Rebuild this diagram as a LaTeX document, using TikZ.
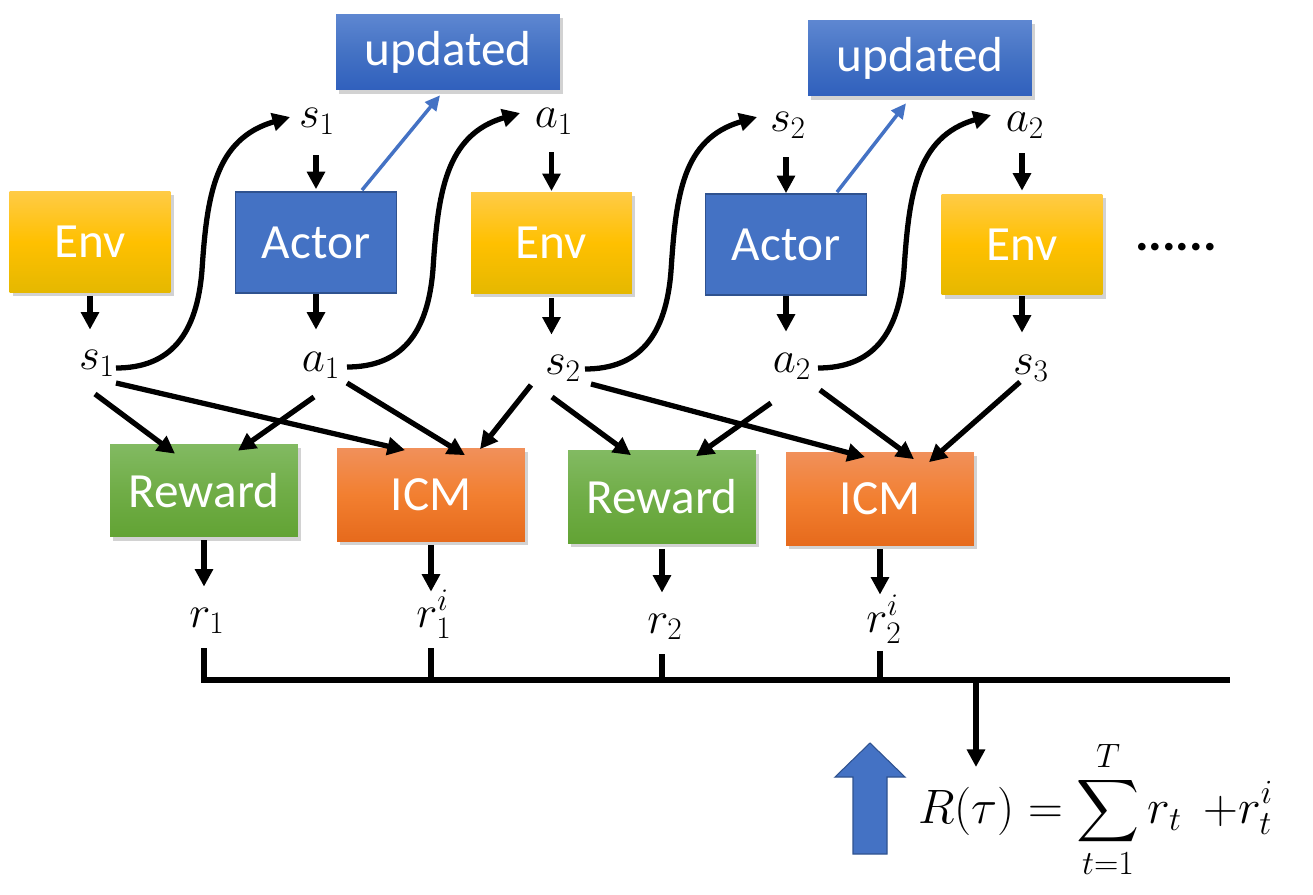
\RequirePackage{fix-cm}
\documentclass[tikz,border=0pt]{standalone}
\usepackage{exscale}
\usepackage[no-math]{fontspec}
\newfontfamily\boxfont{Carlito}
\usetikzlibrary{arrows.meta,shadows,calc}
\definecolor{envtop}{RGB}{255,203,70}
\definecolor{envmid}{RGB}{255,192,0}
\definecolor{envbot}{RGB}{229,184,0}
\definecolor{actblue}{RGB}{68,114,196}
\definecolor{actdark}{RGB}{47,82,143}
\definecolor{updtop}{RGB}{94,135,209}
\definecolor{updbot}{RGB}{48,96,189}
\definecolor{rewtop}{RGB}{130,186,98}
\definecolor{rewmid}{RGB}{112,173,71}
\definecolor{rewbot}{RGB}{98,163,52}
\definecolor{icmtop}{RGB}{241,144,90}
\definecolor{icmmid}{RGB}{242,127,48}
\definecolor{icmbot}{RGB}{230,106,28}
\begin{document}
\begin{tikzpicture}[x=0.02cm,y=-0.02cm,
  shad/.style={drop shadow={shadow xshift=1.8pt,shadow yshift=-2.2pt,opacity=0.25,fill=black!70}},
  boxtxt/.style={text=white,font=\boxfont\fontsize{28}{32}\selectfont,inner sep=0pt},
  envbox/.style={boxtxt,shad,minimum width=3.22cm,minimum height=2.02cm,top color=envtop,bottom color=envbot,middle color=envmid},
  actbox/.style={boxtxt,minimum width=3.22cm,minimum height=2.02cm,fill=actblue,draw=actdark,line width=1pt},
  updbox/.style={boxtxt,shad,minimum width=4.48cm,minimum height=1.52cm,top color=updtop,bottom color=updbot,middle color=actblue},
  rewbox/.style={boxtxt,shad,minimum width=3.76cm,minimum height=1.86cm,top color=rewtop,bottom color=rewbot,middle color=rewmid},
  icmbox/.style={boxtxt,shad,minimum width=3.76cm,minimum height=1.86cm,top color=icmtop,bottom color=icmbot,middle color=icmmid},
  lbl/.style={inner sep=0pt,anchor=base,text height=13.1pt,text depth=4.6pt,font=\fontsize{25.5}{30}\selectfont},
  arr/.style={line width=3pt,-{Triangle[length=10pt,width=10pt]}},
  barr/.style={line width=2pt,draw=actblue,-{Triangle[length=8.5pt,width=8pt]}},
  busline/.style={line width=3pt}
]
\useasboundingbox (0,0) rectangle (1313,895);

% boxes
\node[envbox] (env1) at (90,242) {Env};
\node[actbox] (actor1) at (316,242.5) {Actor};
\node[envbox] (env2) at (551.5,243) {Env};
\node[actbox] (actor2) at (786,244.5) {Actor};
\node[envbox] (env3) at (1022,244.5) {Env};
\node[updbox] (upd1) at (448,52) {updated};
\node[updbox] (upd2) at (920,58) {updated};
\node[rewbox] (rew1) at (204,490.5) {Reward};
\node[icmbox] (icm1) at (431,495) {ICM};
\node[rewbox] (rew2) at (662,497) {Reward};
\node[icmbox] (icm2) at (880,499) {ICM};
\node[anchor=base,inner sep=0pt,font=\boxfont\bfseries\fontsize{29}{30}\selectfont] (dots) at (1176,251) {......};

% labels
\node[lbl] (s1t) at (317,128) {$s_1$};
\node[lbl] (a1t) at (554,128) {$a_1$};
\node[lbl] (s2t) at (788,132) {$s_2$};
\node[lbl] (a2t) at (1025,132) {$a_2$};
\node[lbl] (s1b) at (97,370) {$s_1$};
\node[lbl] (a1b) at (321,372) {$a_1$};
\node[lbl] (s2b) at (563,375) {$s_2$};
\node[lbl] (a2b) at (792,373) {$a_2$};
\node[lbl] (s3) at (1031,375) {$s_3$};
\node[lbl] (r1) at (207,627) {$r_1$};
\node[lbl] (r1i) at (434,627) {$r_1^i$};
\node[lbl] (r2) at (665,633) {$r_2$};
\node[lbl] (r2i) at (884,632) {$r_2^i$};
\node[anchor=base west,inner sep=0pt,font=\fontsize{27.5}{33}\selectfont] (formula) at (918,823)
  {$\displaystyle R(\tau)=\sum_{t=1}^{T} r_t\;\,{+}r_t^{i}$};

% top vertical arrows
\draw[arr,shorten <=10.8pt,shorten >=1.1pt] (actor1.north |- s1t.south) -- (actor1.north);
\draw[arr,shorten <=9pt,shorten >=0.6pt] (env2.north |- a1t.south) -- (env2.north);
\draw[arr,shorten <=9.7pt] (actor2.north |- s2t.south) -- (actor2.north);
\draw[arr,shorten <=7.4pt,shorten >=1.7pt] (env3.north |- a2t.south) -- (env3.north);
% lower vertical arrows
\draw[arr,shorten <=1.7pt,shorten >=9.7pt] (env1.south) -- (env1.south |- s1b.north);
\draw[arr,shorten >=10.8pt] (actor1.south) -- (actor1.south |- a1b.north);
\draw[arr,shorten <=2.3pt,shorten >=9.7pt] (env2.south) -- (env2.south |- s2b.north);
\draw[arr,shorten >=10.2pt] (actor2.south) -- (actor2.south |- a2b.north);
\draw[arr,shorten <=0.6pt,shorten >=10.8pt] (env3.south) -- (env3.south |- s3.north);
\draw[arr,shorten <=1.7pt,shorten >=9.7pt] (rew1.south) -- (rew1.south |- r1.north);
\draw[arr,shorten <=1.7pt,shorten >=6.8pt] (icm1.south) -- (icm1.south |- r1i.north);
\draw[arr,shorten <=2.8pt,shorten >=9.7pt] (rew2.south) -- (rew2.south |- r2.north);
\draw[arr,shorten <=1.7pt,shorten >=8pt] (icm2.south) -- (icm2.south |- r2i.north);

% wavy arrows
\draw[arr] ($(s1b.base)+(19,-2)$) .. controls +(54,0) and +(-5,65) .. ++(86,-98)
  .. controls +(5,-75) and +(-75,22) .. ($(s1t.base)+(-27,-11)$);
\draw[arr] ($(a1b.base)+(26,-5)$) .. controls +(54,0) and +(-5,65) .. ++(86,-98)
  .. controls +(5,-75) and +(-75,22) .. ($(a1t.base)+(-34,-15)$);
\draw[arr] ($(s2b.base)+(22,-6)$) .. controls +(54,0) and +(-5,65) .. ++(86,-98)
  .. controls +(5,-75) and +(-75,22) .. ($(s2t.base)+(-31,-15)$);
\draw[arr] ($(a2b.base)+(26,-5)$) .. controls +(54,0) and +(-5,65) .. ++(86,-98)
  .. controls +(5,-75) and +(-75,22) .. ($(a2t.base)+(-34,-17)$);

% blue arrows
\draw[barr] ($(actor1.north)+(46,-1)$) -- ($(upd1.south)+(-8,5)$);
\draw[barr] ($(actor2.north)+(51,-1)$) -- ($(upd2.south)+(-14,7)$);

% diagonal arrows
\draw[arr] ($(s1b.base)+(-2,24)$) -- ($(rew1.north)+(-29,10)$);
\draw[arr] ($(a1b.base)+(-7,25)$) -- ($(rew1.north)+(34,7)$);
\draw[arr] ($(s1b.base)+(19,13)$) -- ($(icm1.north)+(-26,2)$);
\draw[arr] ($(a1b.base)+(26,11)$) -- ($(icm1.north)+(34,7)$);
\draw[arr] ($(s2b.base)+(-32,10)$) -- ($(icm1.north)+(49,1)$);
\draw[arr] ($(s2b.base)+(-11,22)$) -- ($(rew2.north)+(-31,5)$);
\draw[arr] ($(s2b.base)+(28,9)$) -- ($(icm2.north)+(-15,5)$);
\draw[arr] ($(a2b.base)+(-21,30)$) -- ($(rew2.north)+(34,6)$);
\draw[arr] ($(a2b.base)+(28,17)$) -- ($(icm2.north)+(34,7)$);
\draw[arr] ($(s3.base)+(-11,7)$) -- ($(icm2.north)+(49,10)$);

% sum bus
\coordinate (busR) at (1230,680);
\coordinate (busJ) at (976,680);
\coordinate (sumtip) at (976,767);
\draw[busline,shorten <=7.4pt] (rew1.south |- r1.south) -- (rew1.south |- busR) -- (busR);
\draw[busline,shorten <=7.4pt] (icm1.south |- r1i.south) -- (icm1.south |- busR);
\draw[busline,shorten <=7.4pt] (rew2.south |- r2.south) -- (rew2.south |- busR);
\draw[busline,shorten <=6pt] (icm2.south |- r2i.south) -- (icm2.south |- busR);
\draw[arr] (busJ) -- (sumtip);

% big blue arrow
\filldraw[fill=actblue,draw=actdark,line width=0.6pt]
  (870,743) -- (905,777) -- (887,777) -- (887,854) -- (853,854) -- (853,777) -- (835,777) -- cycle;
\end{tikzpicture}
\end{document}
